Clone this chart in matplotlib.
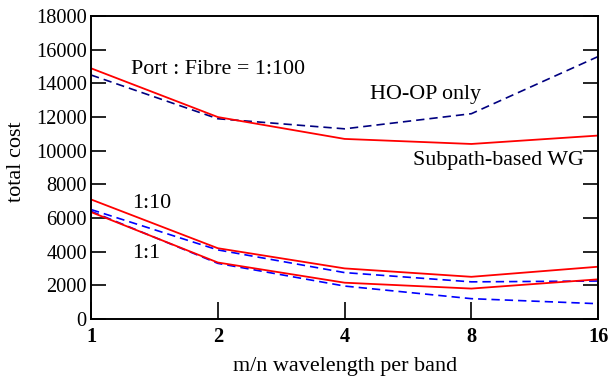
import numpy as np
import matplotlib
matplotlib.use("Agg")
import matplotlib.pyplot as plt

plt.rcParams['font.family'] = ['Liberation Serif', 'DejaVu Serif']

# m/n wavelength per band
x = [1, 2, 4, 8, 16]

# Port : Fibre = 1:100
wg_100 = [14900, 12000, 10700, 10400, 10900]
hoop_100 = [14500, 11900, 11300, 12200, 15600]
# 1:10
wg_10 = [7100, 4200, 3000, 2500, 3100]
hoop_10 = [6500, 4100, 2750, 2200, 2250]
# 1:1
wg_1 = [6350, 3350, 2150, 1800, 2350]
hoop_1 = [6400, 3300, 1950, 1200, 900]

fig = plt.figure(figsize=(6.11, 3.76), dpi=100)
ax = fig.add_axes([0.149, 0.152, 0.830, 0.805])

ax.plot(x, hoop_100, color='#000080', ls=(0, (5, 3)), lw=1.2)
ax.plot(x, hoop_10, color='#0000ff', ls=(0, (5, 3)), lw=1.2)
ax.plot(x, hoop_1, color='#0000ff', ls=(0, (5, 3)), lw=1.2)
ax.plot(x, wg_100, color='#ff0000', lw=1.3)
ax.plot(x, wg_10, color='#ff0000', lw=1.3)
ax.plot(x, wg_1, color='#ff0000', lw=1.3)

ax.set_xscale('log', base=2)
ax.set_xlim(1, 16)
ax.set_ylim(0, 18000)
ax.set_xticks(x)
ax.set_xticklabels([str(v) for v in x], fontweight='bold')
ax.minorticks_off()
ax.set_yticks(np.arange(0, 18001, 2000))
ax.tick_params(axis='y', direction='in', length=11, width=1.2, right=True,
               labelsize=14.7, pad=3)
ax.tick_params(axis='x', direction='in', length=12, width=1.2,
               labelsize=14.7, pad=6)
for s in ax.spines.values():
    s.set_linewidth(1.4)

ax.set_xlabel('m/n wavelength per band', fontsize=15.9)
ax.xaxis.set_label_coords(0.5, -0.125)
ax.set_ylabel('total cost', fontsize=16)
ax.yaxis.set_label_coords(-0.128, 0.52)

ax.text(1.244, 14850, 'Port : Fibre = 1:100', fontsize=15.8, va='center')
ax.text(4.59, 13370, 'HO-OP only', fontsize=15.8, va='center')
ax.text(5.8, 9390, 'Subpath-based WG', fontsize=15.8, va='center')
ax.text(1.25, 6830, '1:10', fontsize=15.8, va='center')
ax.text(1.25, 3860, '1:1', fontsize=15.8, va='center')

fig.savefig('out.png', dpi=100)
